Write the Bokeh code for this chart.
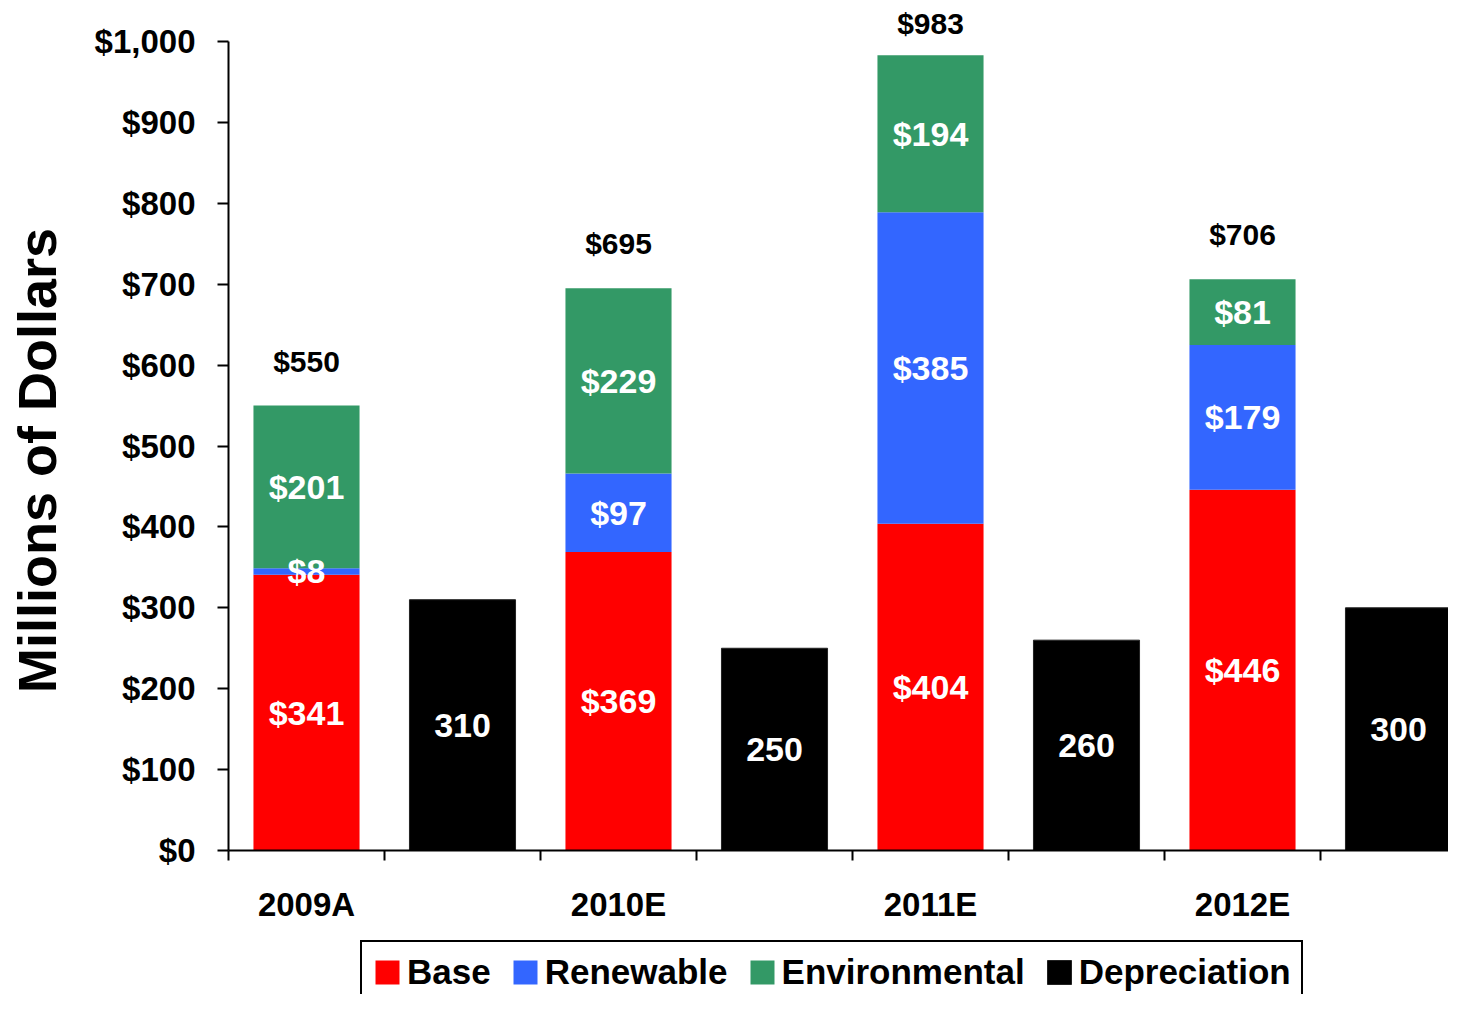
from bokeh.plotting import figure
from bokeh.models import (ColumnDataSource, Range1d, FixedTicker, NumeralTickFormatter,
                          Legend, LegendItem, Label)
from bokeh.core.properties import value
from bokeh.embed import file_html
from bokeh.resources import INLINE

# ---- data ----
categories = ["2009A", "2010E", "2011E", "2012E"]
base = [341, 369, 404, 446]
renewable = [8, 97, 385, 179]
environmental = [201, 229, 194, 81]
depreciation = [310, 250, 260, 300]
series_names = ["Base", "Renewable", "Environmental", "Depreciation"]
colors = ["#FF0000", "#3366FF", "#339966", "#000000"]

FONT = "Liberation Sans"
W, H = 1448, 994
X0_PX, SLOT_PX = 228, 156          # where x=0 sits, and width of one slot
Y0_PX, PX_PER_UNIT = 850, 0.809    # where y=0 sits, pixels per dollar (millions)

n = len(categories)
x_stack = [2 * i + 0.5 for i in range(n)]
x_dep = [2 * i + 1.5 for i in range(n)]
totals = [b + r + e for b, r, e in zip(base, renewable, environmental)]

x_start = -X0_PX / SLOT_PX
x_end = (W - X0_PX) / SLOT_PX
y_end = Y0_PX / PX_PER_UNIT
y_start = -(H - Y0_PX) / PX_PER_UNIT

p = figure(width=W, height=H, output_backend="svg", toolbar_location=None,
           x_range=Range1d(x_start, x_end), y_range=Range1d(y_start, y_end),
           min_border=0, min_border_left=0, min_border_right=0,
           min_border_top=0, min_border_bottom=0)
p.outline_line_color = None
p.xgrid.visible = False
p.ygrid.visible = False
p.background_fill_color = "white"
p.border_fill_color = "white"

src = ColumnDataSource(dict(x=x_stack, base=base, renew=renewable, env=environmental))
stack_rs = p.vbar_stack(["base", "renew", "env"], x="x", width=0.68, source=src,
                        fill_color=colors[:3], line_color=colors[:3], line_width=0)
dsrc = ColumnDataSource(dict(x=x_dep, top=depreciation))
dep_r = p.vbar(x="x", top="top", width=0.68, source=dsrc, fill_color="#000000",
               line_color="#222222", line_width=1)

# segment labels
lx, ly, lt = [], [], []
for i in range(n):
    segs = [base[i], renewable[i], environmental[i]]
    bottom = 0
    for s in segs:
        lx.append(x_stack[i]); ly.append(bottom + s / 2); lt.append(f"${s}")
        bottom += s
for i in range(n):
    lx.append(x_dep[i]); ly.append(depreciation[i] / 2); lt.append(f"{depreciation[i]}")
lsrc = ColumnDataSource(dict(x=lx, y=ly, t=lt))
p.text(x="x", y="y", text="t", source=lsrc, text_align="center", text_baseline="middle",
       text_color="white", text_font=value(FONT), text_font_style="bold", text_font_size="34px")

# totals
tsrc = ColumnDataSource(dict(x=x_stack, y=[min(t + 55, 1022) for t in totals],
                             t=[f"${t}" for t in totals]))
p.text(x="x", y="y", text="t", source=tsrc, text_align="center", text_baseline="middle",
       text_color="black", text_font=value(FONT), text_font_style="bold", text_font_size="30px")

# y axis (drawn at x = 0)
ya = p.yaxis[0]
ya.fixed_location = 0
ya.ticker = FixedTicker(ticks=list(range(0, 1001, 100)))
ya.formatter = NumeralTickFormatter(format="$0,0")
ya.bounds = (0, 1000)
ya.axis_line_width = 2
ya.major_tick_line_width = 2
ya.major_tick_out = 11
ya.major_tick_in = 0
ya.minor_tick_line_color = None
ya.major_label_standoff = 22
ya.major_label_text_font = FONT
ya.major_label_text_font_style = "bold"
ya.major_label_text_font_size = "33px"
ya.major_label_text_color = "black"

# x axis (drawn at y = 0)
xa = p.xaxis[0]
xa.fixed_location = 0
xa.bounds = (0, x_end)
xa.ticker = FixedTicker(ticks=x_stack, minor_ticks=list(range(0, 8)))
xa.major_label_overrides = {x: c for x, c in zip(x_stack, categories)}
xa.axis_line_width = 2
xa.major_tick_out = 0
xa.major_tick_in = 0
xa.major_tick_line_color = None
xa.minor_tick_out = 10
xa.minor_tick_in = 0
xa.minor_tick_line_width = 2
xa.minor_tick_line_color = "black"
xa.major_label_standoff = 25
xa.major_label_text_font = FONT
xa.major_label_text_font_style = "bold"
xa.major_label_text_font_size = "33px"
xa.major_label_text_color = "black"

# y axis title
p.add_layout(Label(x=36, y=H - 460, x_units="screen", y_units="screen",
                   text="Millions of Dollars", angle=90, angle_units="deg",
                   text_align="center", text_baseline="middle", text_font=FONT,
                   text_font_style="bold", text_font_size="54px", text_color="black"))

# legend
items = [LegendItem(label=series_names[i], renderers=[stack_rs[i]]) for i in range(3)]
items.append(LegendItem(label=series_names[3], renderers=[dep_r]))
legend = Legend(items=items, orientation="horizontal", location=(360, -10),
                glyph_width=30, glyph_height=30, label_standoff=5, spacing=19,
                padding=10, margin=0, border_line_color="black", border_line_width=2,
                border_line_alpha=1.0,
                label_text_font=FONT, label_text_font_style="bold",
                label_text_font_size="35px", label_text_color="black",
                background_fill_color="white", background_fill_alpha=1)
p.add_layout(legend)

open("out.html", "w").write(file_html(p, INLINE))
